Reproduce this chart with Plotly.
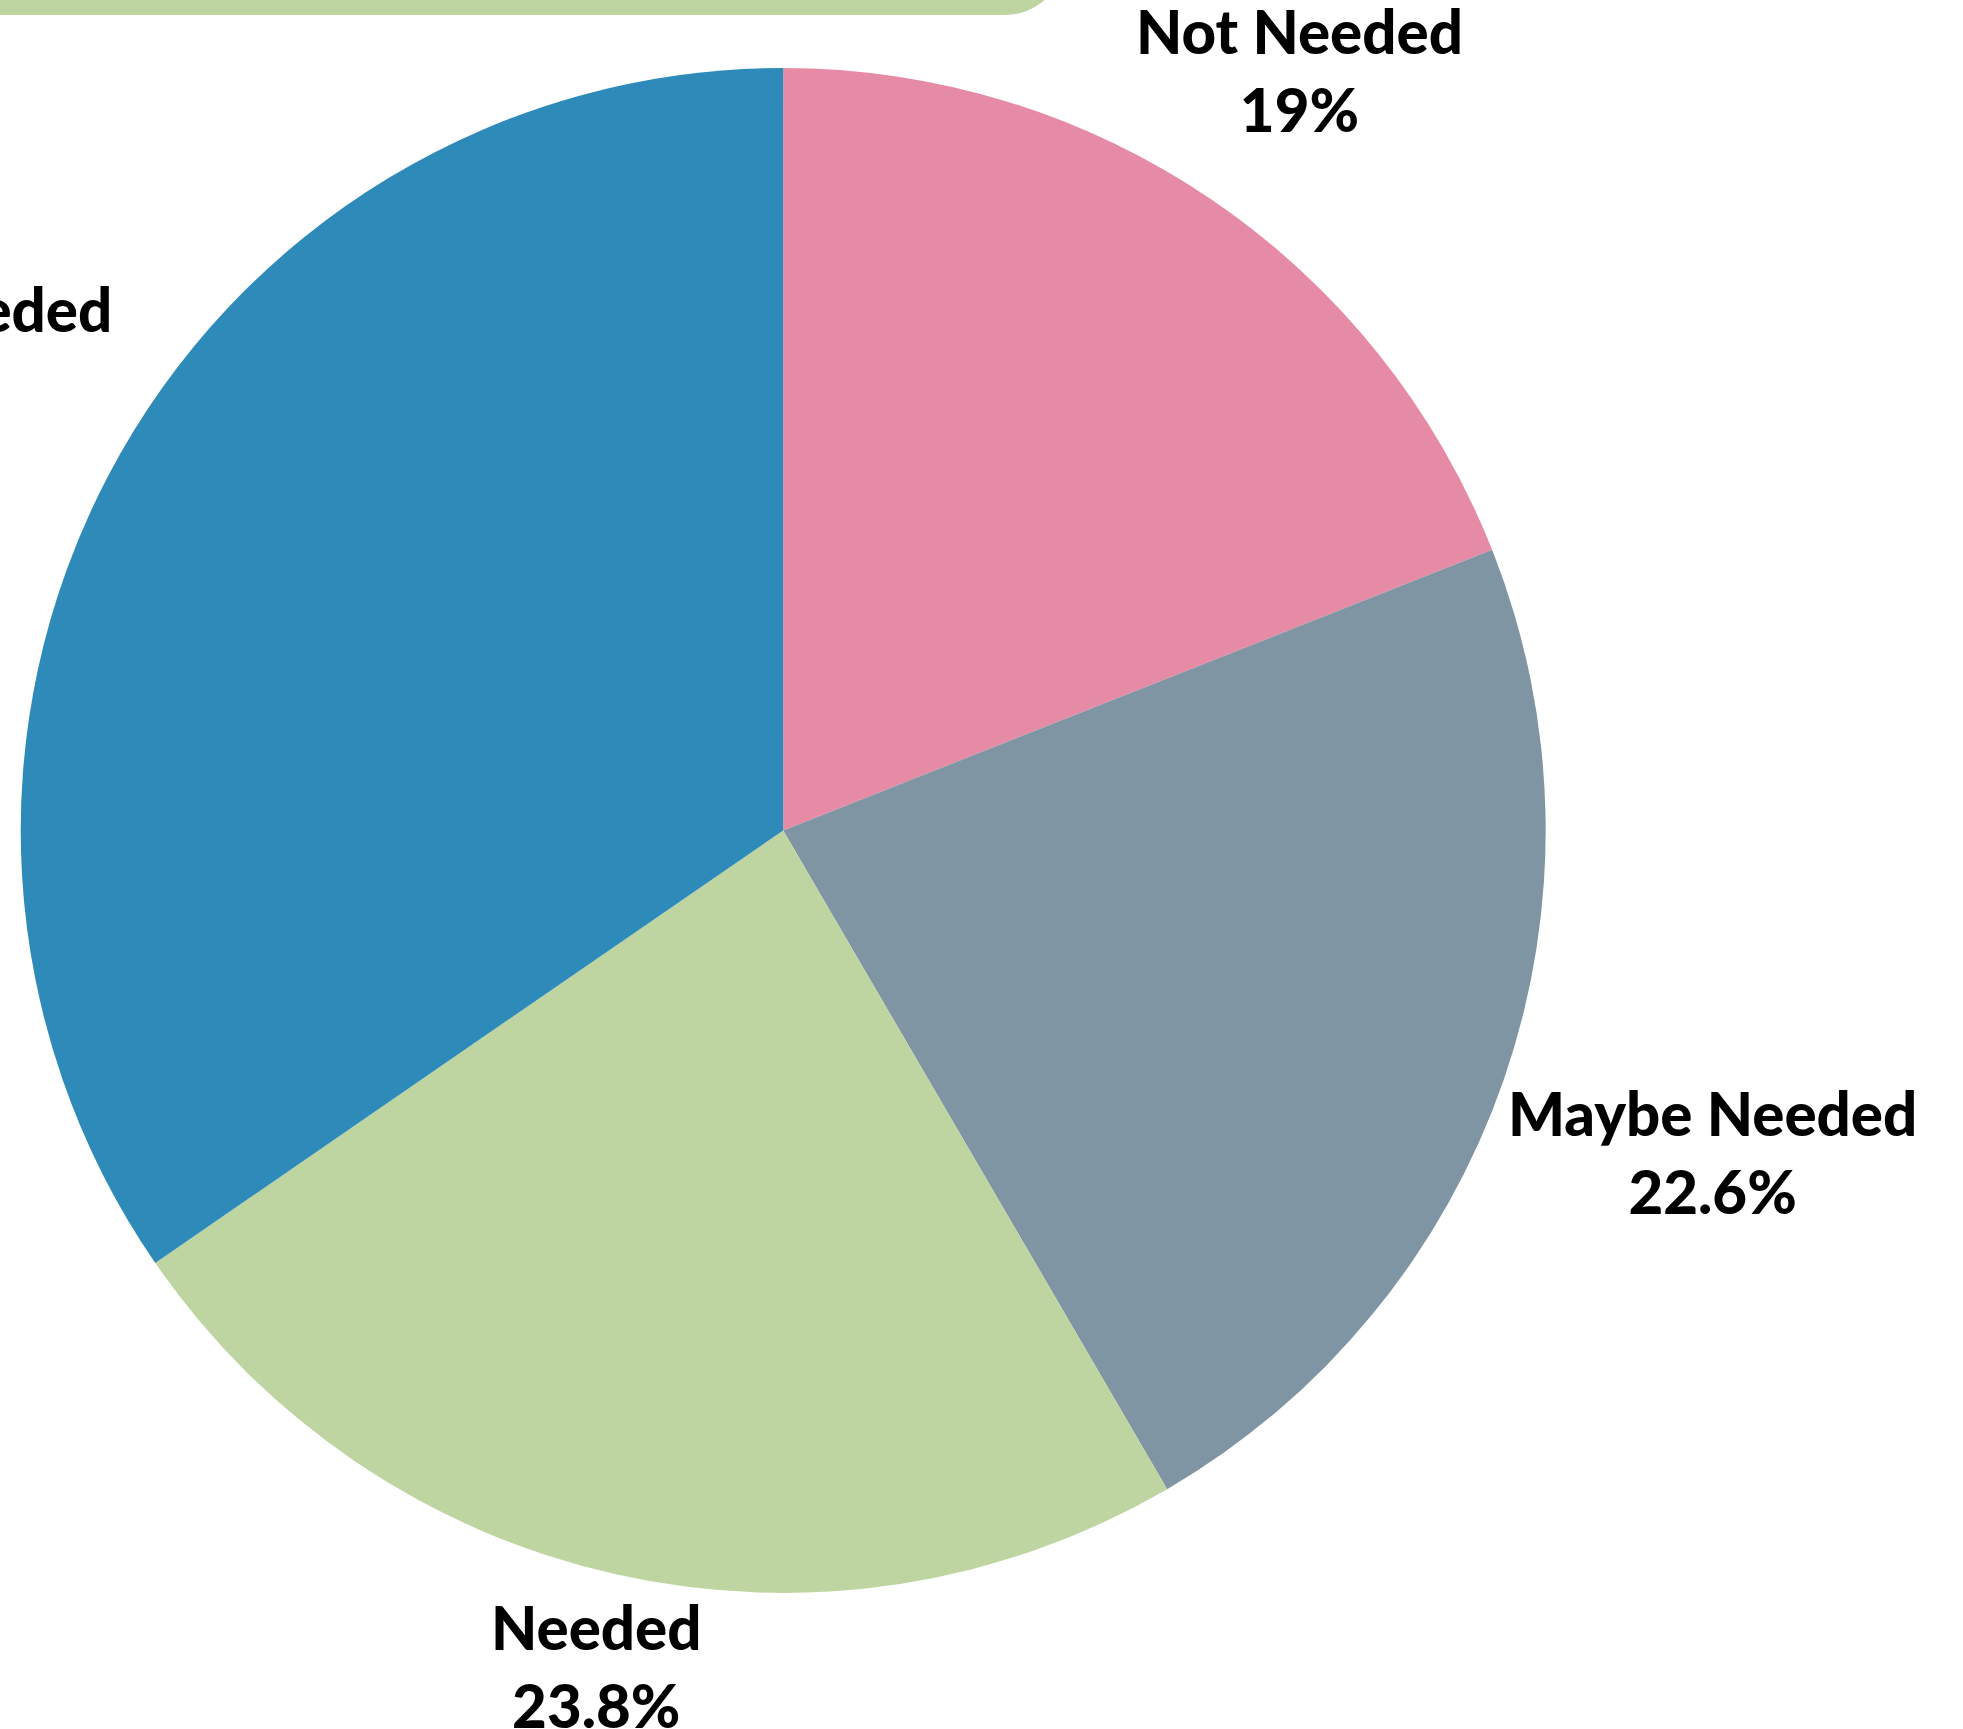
import math
import plotly.graph_objects as go

# ---- data ----
labels = ["Not Needed", "Maybe Needed", "Needed", "Extremely Needed"]
values = [19.0, 22.6, 23.8, 34.6]
colors = ["#E58BA6", "#8095A3", "#BFD5A1", "#2E8BB9"]

# ---- layout constants ----
W, H = 1963, 1729
dom_x = [0.01055, 0.7874]
dom_y = [0.0787, 0.9607]
FONT_SIZE = 60
FONT_FAMILY = "Lato, Inter, Roboto, sans-serif"

fig = go.Figure(
    go.Pie(
        labels=labels,
        values=values,
        marker=dict(colors=colors, line=dict(width=0)),
        sort=False,
        direction="clockwise",
        rotation=0,
        textinfo="none",
        hoverinfo="skip",
        domain=dict(x=dom_x, y=dom_y),
    )
)

# outside labels placed radially at each slice's mid-angle
cx = W * (dom_x[0] + dom_x[1]) / 2
cy = H * (1 - (dom_y[0] + dom_y[1]) / 2)
r = min(W * (dom_x[1] - dom_x[0]), H * (dom_y[1] - dom_y[0])) / 2
total = sum(values)
cum = 0.0
for lab, v in zip(labels, values):
    mid = (cum + v / 2) / total * 2 * math.pi
    cum += v
    s, c = math.sin(mid), math.cos(mid)
    hw = 0.55 * FONT_SIZE * len(lab) / 2
    hh = 1.0 * FONT_SIZE
    d = r + 14 + hw * abs(s) + hh * abs(c)
    px = cx + d * s
    py = cy - d * c
    pct = f"{v / total * 100:.1f}".rstrip("0").rstrip(".") + "%"
    fig.add_annotation(
        x=px / W, y=1 - py / H, xref="paper", yref="paper",
        text=f"{lab}<br>{pct}", showarrow=False,
        xanchor="center", yanchor="middle", align="center",
        font=dict(family=FONT_FAMILY, size=FONT_SIZE, color="#000000", weight=900),
    )

# green rounded box peeking in at the top
def fx(x):
    return x / W

def fy(y):
    return 1 - y / H

path = (
    f"M {fx(-30)},{fy(-80)} L {fx(-30)},{fy(15)} L {fx(1005)},{fy(15)} "
    f"C {fx(1038)},{fy(15)} {fx(1065)},{fy(-12)} {fx(1065)},{fy(-45)} "
    f"L {fx(1065)},{fy(-80)} Z"
)
fig.add_shape(type="path", xref="paper", yref="paper", path=path,
              fillcolor="#BFD5A1", line=dict(width=0), layer="below")

fig.update_layout(
    width=W, height=H,
    margin=dict(l=0, r=0, t=0, b=0),
    paper_bgcolor="white",
    plot_bgcolor="white",
    showlegend=False,
)

fig.write_html("out.html", config={"displayModeBar": False},
               post_script="document.body.style.margin='0px';")
